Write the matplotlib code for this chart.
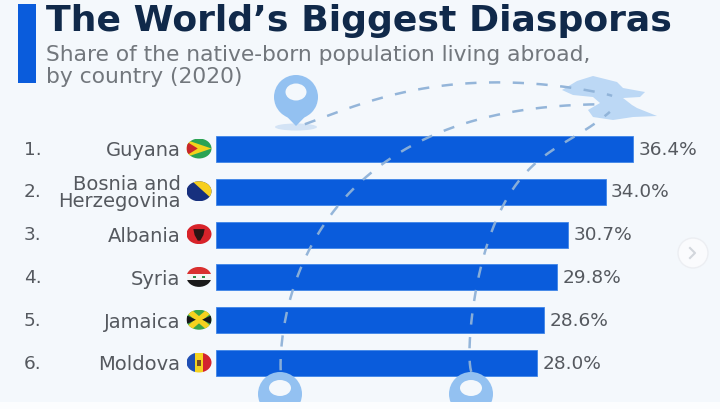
import matplotlib
matplotlib.use('Agg')
import matplotlib.pyplot as plt
import numpy as np
from matplotlib.patches import Ellipse, Polygon, Rectangle, Circle

W, H = 720, 409
countries = ['Guyana', 'Bosnia and\nHerzegovina', 'Albania', 'Syria', 'Jamaica', 'Moldova']
shares = [36.4, 34.0, 30.7, 29.8, 28.6, 28.0]
ranks = ['1.', '2.', '3.', '4.', '5.', '6.']

BG = '#f4f8fc'
BLUE = '#0a5cdc'
PIN = '#93c1f1'
DASH = '#8fb2d8'
GREY = '#55595f'

plt.rcParams['font.family'] = ['DejaVu Sans']


def px_axes(fig, zorder):
    a = fig.add_axes([0, 0, 1, 1], zorder=zorder)
    a.set_xlim(0, W)
    a.set_ylim(H, 0)
    a.axis('off')
    a.patch.set_alpha(0)
    return a


def curve(a, pts):
    # smooth dashed arc through a few anchor points
    pts = np.array(pts, dtype=float)
    t = np.linspace(0, 1, len(pts))
    tt = np.linspace(0, 1, 200)
    deg = min(4, len(pts) - 1)
    xs = np.polyval(np.polyfit(t, pts[:, 0], deg), tt)
    ys = np.polyval(np.polyfit(t, pts[:, 1], deg), tt)
    a.plot(xs, ys, color=DASH, lw=1.8, dashes=(4.5, 5), alpha=0.95, zorder=3)


def pin(a, x, tip, r=22):
    # map marker: round head with a point and a small shadow below it
    a.add_patch(Ellipse((x, tip + 1), 42, 7, color='#d3e3f5', lw=0, zorder=2))
    a.add_patch(Polygon([(x - r * 0.93, tip - 21), (x, tip), (x + r * 0.93, tip - 21)], color=PIN, lw=0, zorder=3))
    a.add_patch(Circle((x, tip - 29), r, color=PIN, lw=0, zorder=3))
    a.add_patch(Ellipse((x, tip - 34), 21, 17, color=BG, lw=0, zorder=4))


def ring(a, x, y):
    a.add_patch(Ellipse((x, y + 6), 44, 44, color=PIN, lw=0, zorder=4))
    a.add_patch(Ellipse((x, y), 22, 16, color=BG, lw=0, zorder=5))


def flag(a, x, y, parts):
    # round-ish country badge, the parts are clipped to the ellipse
    clip = Ellipse((x, y), 25, 20, transform=a.transData)
    for color, coords in parts:
        pts = [(x + u * 12.5, y + v * 10) for u, v in coords]
        p = Polygon(pts, color=color, lw=0, zorder=6)
        a.add_patch(p)
        p.set_clip_path(clip)


def box(u0, v0, u1, v1):
    return [(u0, v0), (u1, v0), (u1, v1), (u0, v1)]


FLAGS = [
    [('#2aa354', box(-1, -1, 1, 1)),
     ('#f2d21c', [(-1, -0.85), (1, 0), (-1, 0.85)]),
     ('#c8252c', [(-1, -0.7), (-0.1, 0), (-1, 0.7)])],
    [('#17307e', box(-1, -1, 1, 1)),
     ('#f7cf1f', [(-0.6, -1), (1, -1), (1, 0.8)])],
    [('#d8232a', box(-1, -1, 1, 1)),
     ('#2a1414', [(-0.45, -0.5), (0.45, -0.5), (0.35, 0.1), (0.1, 0.65), (-0.1, 0.65), (-0.35, 0.1)])],
    [('#d9302f', box(-1, -1, 1, -0.33)),
     ('#f4f4f4', box(-1, -0.33, 1, 0.33)),
     ('#1a1a1a', box(-1, 0.33, 1, 1)),
     ('#2f8a4a', box(-0.45, -0.12, -0.25, 0.12)),
     ('#2f8a4a', box(0.25, -0.12, 0.45, 0.12))],
    [('#3aa548', box(-1, -1, 1, 1)),
     ('#f5d21f', [(-1, -1), (-0.6, -1), (1, 0.7), (1, 1), (0.6, 1), (-1, -0.7)]),
     ('#f5d21f', [(1, -1), (0.6, -1), (-1, 0.7), (-1, 1), (-0.6, 1), (1, -0.7)]),
     ('#17171a', [(-1, -0.45), (-0.25, 0), (-1, 0.45)]),
     ('#17171a', [(1, -0.45), (0.25, 0), (1, 0.45)])],
    [('#1f4fb4', box(-1, -1, -0.33, 1)),
     ('#f5d21f', box(-0.33, -1, 0.33, 1)),
     ('#d3242f', box(0.33, -1, 1, 1)),
     ('#7a4a20', box(-0.14, -0.3, 0.14, 0.3))],
]

fig = plt.figure(figsize=(W / 100, H / 100), dpi=100, facecolor=BG)

back = px_axes(fig, 0)
back.add_patch(Rectangle((18, 4), 18, 79, color=BLUE, lw=0))
back.text(46, 31, 'The World\u2019s Biggest Diasporas', fontsize=26.1, fontweight='bold',
          color='#10294a', va='baseline', ha='left')
back.text(46, 61, 'Share of the native-born population living abroad,', fontsize=15.7,
          color='#72777d', va='baseline')
back.text(46, 83, 'by country (2020)', fontsize=15.7, color='#72777d', va='baseline')

# map shape the arcs run to
back.add_patch(Polygon([(562, 90), (577, 81), (593, 76), (617, 82), (623, 88), (645, 92), (640, 97),
                        (623, 98), (632, 105), (637, 108), (657, 116), (633, 117), (613, 120),
                        (593, 117), (588, 110), (600, 103), (593, 97), (573, 95)],
                       color='#bcd8f5', lw=0))
pin(back, 296, 126)

# bars sit at y=149..363 px with x=0 at 216 px
px_per_unit = 417 / 36.4
pitch = (363 - 149) / 5
top, bottom = 149 - pitch / 2, 363 + pitch / 2
ax = fig.add_axes([216 / W, 1 - bottom / H, (W - 216) / W, (bottom - top) / H], zorder=1)
ax.patch.set_alpha(0)
y = np.arange(len(countries))
ax.barh(y, shares, height=26 / pitch, color=BLUE, edgecolor='#3f86e8', linewidth=0.6)
ax.set_xlim(0, (W - 216) / px_per_unit)
ax.set_ylim(len(countries) - 0.5, -0.5)
ax.set_xticks([])
ax.set_yticks(y)
ax.set_yticklabels(countries, fontsize=14, color=GREY, linespacing=0.88, ha='right', va='center_baseline')
ax.tick_params(axis='y', length=0, pad=25.5)
for side in ax.spines.values():
    side.set_visible(False)
for i, v in enumerate(shares):
    ax.annotate(f'{v:.1f}%', (v, i), xytext=(4, -0.5), textcoords='offset points', fontsize=13.3,
                color=GREY, va='center', ha='left')
    ax.annotate(ranks[i], (0, i), xycoords=('axes fraction', 'data'), xytext=(-192 * 0.72, -0.5),
                textcoords='offset points', fontsize=13.3, color=GREY, va='center')

front = px_axes(fig, 2)
curve(front, [(305, 124), (360, 105), (420, 88), (480, 83), (540, 85), (590, 90), (612, 96)])
curve(front, [(280, 372), (283, 340), (293, 300), (315, 232), (367, 173), (443, 132), (510, 115), (603, 103)])
curve(front, [(471, 372), (472, 330), (478, 270), (503, 207), (530, 170), (567, 140), (610, 112)])
ring(front, 280, 388)
ring(front, 471, 388)
for i, parts in enumerate(FLAGS):
    flag(front, 199, 149 + i * pitch - 0.5, parts)

# paging button at the right edge and pale strip along the bottom
front.add_patch(Circle((693, 253), 15, facecolor='#fafbfd', edgecolor='#eceef2', lw=1, zorder=6))
front.plot([690, 695, 690], [248, 253, 258], color='#d2d6dc', lw=1.5, zorder=7)
front.add_patch(Rectangle((0, 402), W, 7, color='#fcfdfe', lw=0, zorder=8))

fig.savefig('out.png', dpi=100)
